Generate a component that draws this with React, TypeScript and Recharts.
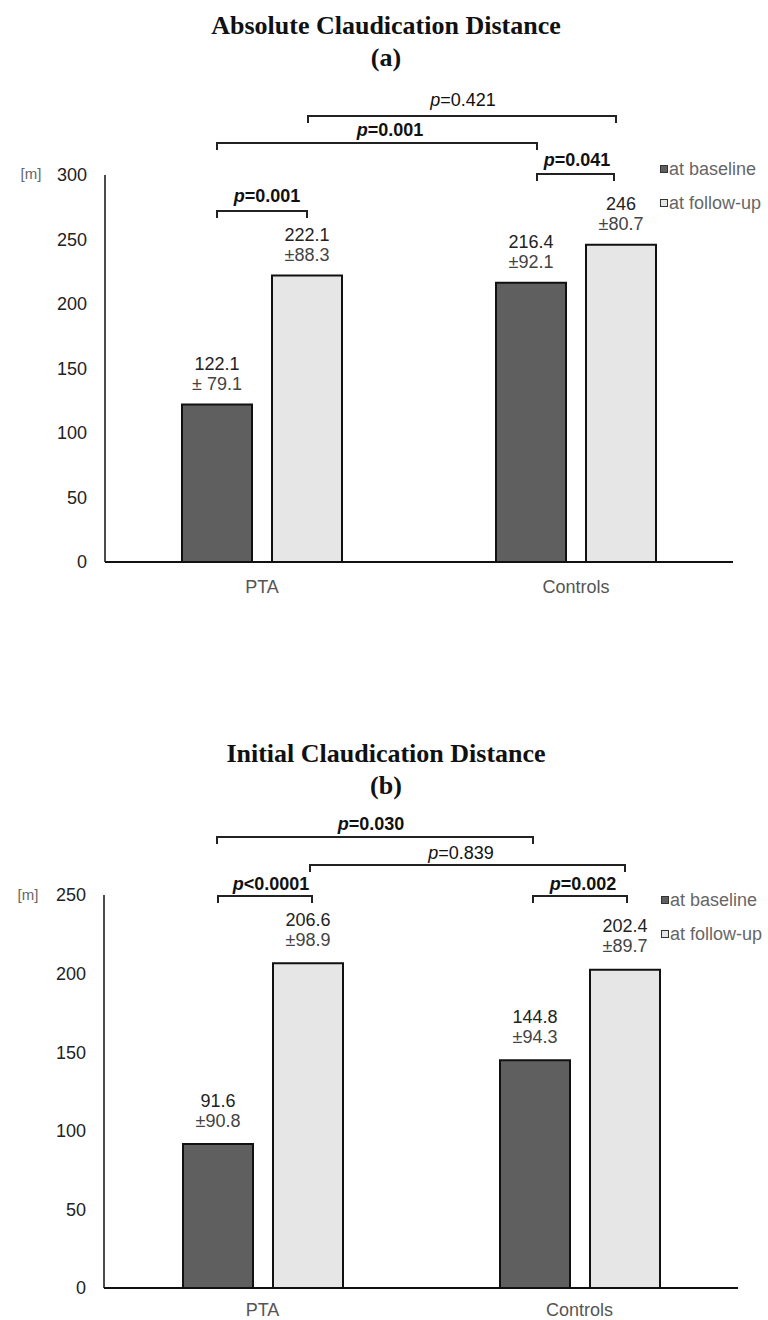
import React from 'react';
import { BarChart, Bar, XAxis, YAxis, Legend, LabelList } from 'recharts';

const groups = ['PTA', 'Controls'];

// (a) absolute claudication distance [m]
const acdBaseline = [122.1, 216.4];
const acdFollowUp = [222.1, 246];
const acdBaselineSd = ['± 79.1', '±92.1'];
const acdFollowUpSd = ['±88.3', '±80.7'];
const acdTicks = [0, 50, 100, 150, 200, 250, 300];

// (b) initial claudication distance [m]
const icdBaseline = [91.6, 144.8];
const icdFollowUp = [206.6, 202.4];
const icdBaselineSd = ['±90.8', '±94.3'];
const icdFollowUpSd = ['±98.9', '±89.7'];
const icdTicks = [0, 50, 100, 150, 200, 250];

const acdData = groups.map((g, i) => ({ group: g, baseline: acdBaseline[i], followUp: acdFollowUp[i] }));
const icdData = groups.map((g, i) => ({ group: g, baseline: icdBaseline[i], followUp: icdFollowUp[i] }));

const SANS = '"Liberation Sans", Arial, sans-serif';
const SERIF = '"Liberation Serif", "Times New Roman", serif';
const DARK = '#5f5f5f';
const LIGHT = '#e6e6e6';

// significance brackets (annotation positions)
type Bracket = { x1: number; x2: number; y: number; text: string; bold: boolean; tx: number; ty: number };
const acdBrackets: Bracket[] = [
  { x1: 308, x2: 616, y: 116, text: '=0.421', bold: false, tx: 463, ty: 99 },
  { x1: 217, x2: 537, y: 143, text: '=0.001', bold: true, tx: 390, ty: 129 },
  { x1: 537, x2: 614, y: 174, text: '=0.041', bold: true, tx: 577, ty: 159 },
  { x1: 217, x2: 307, y: 211, text: '=0.001', bold: true, tx: 267, ty: 195 },
];
const icdBrackets: Bracket[] = [
  { x1: 217, x2: 533, y: 837, text: '=0.030', bold: true, tx: 371, ty: 823 },
  { x1: 310, x2: 625, y: 865, text: '=0.839', bold: false, tx: 461, ty: 852 },
  { x1: 218, x2: 312, y: 896, text: '<0.0001', bold: true, tx: 271, ty: 883 },
  { x1: 533, x2: 627, y: 896, text: '=0.002', bold: true, tx: 583, ty: 883 },
];

const makeLabel = (sds: string[], gap: number) => (props: any) => {
  const { x, y, width, value, index } = props;
  const cx = Number(x) + Number(width) / 2;
  const top = Number(y);
  return (
    <g>
      <text x={cx} y={top - gap - 20 + 6.5} textAnchor="middle" fontSize={18} fill="#222" fontFamily={SANS}>
        {String(value)}
      </text>
      <text x={cx} y={top - gap + 6.5} textAnchor="middle" fontSize={18} fill="#444" fontFamily={SANS}>
        {sds[index]}
      </text>
    </g>
  );
};

const LegendBox = () => (
  <div style={{ fontFamily: SANS, fontSize: 18, color: '#666', lineHeight: '20px' }}>
    {[
      { name: 'at baseline', fill: DARK },
      { name: 'at follow-up', fill: LIGHT },
    ].map((it, i) => (
      <div key={it.name} style={{ display: 'flex', alignItems: 'center', height: 20, marginBottom: i === 0 ? 14 : 0 }}>
        <span style={{ width: 6, height: 6, background: it.fill, border: '1px solid #333', display: 'inline-block', marginRight: 1 }} />
        <span style={{ whiteSpace: 'nowrap' }}>{it.name}</span>
      </div>
    ))}
  </div>
);

const Brackets = ({ items }: { items: Bracket[] }) => (
  <g>
    {items.map((b, i) => (
      <g key={i}>
        <path d={`M${b.x1},${b.y + 7} L${b.x1},${b.y} L${b.x2},${b.y} L${b.x2},${b.y + 7}`} fill="none" stroke="#222" strokeWidth={2} />
        <text x={b.tx} y={b.ty + 6.5} textAnchor="middle" fontSize={18} fontFamily={SANS} fill="#111" fontWeight={b.bold ? 'bold' : 'normal'}>
          <tspan fontStyle="italic">p</tspan>
          {b.text}
        </text>
      </g>
    ))}
  </g>
);

const App: React.FC = () => {
  return (
    <div style={{ position: 'absolute', left: 0, top: 0, width: 768, height: 1320, background: '#fff', fontFamily: SANS }}>
      <div style={{ position: 'absolute', left: 0, top: 0 }}>
        <BarChart width={768} height={600} data={acdData} margin={{ top: 175, right: 35, bottom: 8, left: 0 }} barSize={70} barGap={20}>
          <XAxis dataKey="group" height={30} tickSize={0} tickMargin={18} stroke="#111" strokeWidth={2}
            tick={{ fill: '#555', fontSize: 18, fontFamily: SANS }} />
          <YAxis width={105} domain={[0, 300]} ticks={acdTicks} interval={0} tickSize={0} tickMargin={18} stroke="#111" strokeWidth={1.5}
            tick={{ fill: '#222', fontSize: 18, fontFamily: SANS }} />
          <Legend layout="vertical" align="center" verticalAlign="middle" content={() => <LegendBox />}
            wrapperStyle={{ left: 660, top: 159, width: 110, height: 60 }} />
          <Bar dataKey="baseline" fill={DARK} stroke="#111" strokeWidth={2} isAnimationActive={false}>
            <LabelList dataKey="baseline" content={makeLabel(acdBaselineSd, 21)} />
          </Bar>
          <Bar dataKey="followUp" fill={LIGHT} stroke="#111" strokeWidth={2} isAnimationActive={false}>
            <LabelList dataKey="followUp" content={makeLabel(acdFollowUpSd, 21)} />
          </Bar>
        </BarChart>
      </div>

      <div style={{ position: 'absolute', left: 0, top: 700 }}>
        <BarChart width={768} height={620} data={icdData} margin={{ top: 195, right: 30, bottom: 2, left: 0 }} barSize={70} barGap={20}>
          <XAxis dataKey="group" height={30} tickSize={0} tickMargin={15} stroke="#111" strokeWidth={2}
            tick={{ fill: '#555', fontSize: 18, fontFamily: SANS }} />
          <YAxis width={104} domain={[0, 250]} ticks={icdTicks} interval={0} tickSize={0} tickMargin={18} stroke="#111" strokeWidth={1.5}
            tick={{ fill: '#222', fontSize: 18, fontFamily: SANS }} />
          <Legend layout="vertical" align="center" verticalAlign="middle" content={() => <LegendBox />}
            wrapperStyle={{ left: 661, top: 190, width: 110, height: 60 }} />
          <Bar dataKey="baseline" fill={DARK} stroke="#111" strokeWidth={2} isAnimationActive={false}>
            <LabelList dataKey="baseline" content={makeLabel(icdBaselineSd, 24)} />
          </Bar>
          <Bar dataKey="followUp" fill={LIGHT} stroke="#111" strokeWidth={2} isAnimationActive={false}>
            <LabelList dataKey="followUp" content={makeLabel(icdFollowUpSd, 24)} />
          </Bar>
        </BarChart>
      </div>

      <svg width={768} height={1320} style={{ position: 'absolute', left: 0, top: 0, pointerEvents: 'none' }}>
        <text x={386} y={34} textAnchor="middle" fontFamily={SERIF} fontWeight="bold" fontSize={26} fill="#111">Absolute Claudication Distance</text>
        <text x={386} y={66} textAnchor="middle" fontFamily={SERIF} fontWeight="bold" fontSize={26} fill="#111">(a)</text>
        <text x={31} y={179} textAnchor="middle" fontFamily={SANS} fontSize={15} fill="#666">[m]</text>
        <Brackets items={acdBrackets} />

        <text x={386} y={762} textAnchor="middle" fontFamily={SERIF} fontWeight="bold" fontSize={26} fill="#111">Initial Claudication Distance</text>
        <text x={386} y={794} textAnchor="middle" fontFamily={SERIF} fontWeight="bold" fontSize={26} fill="#111">(b)</text>
        <text x={28} y={900} textAnchor="middle" fontFamily={SANS} fontSize={15} fill="#666">[m]</text>
        <Brackets items={icdBrackets} />
      </svg>
    </div>
  );
};

export default App;
